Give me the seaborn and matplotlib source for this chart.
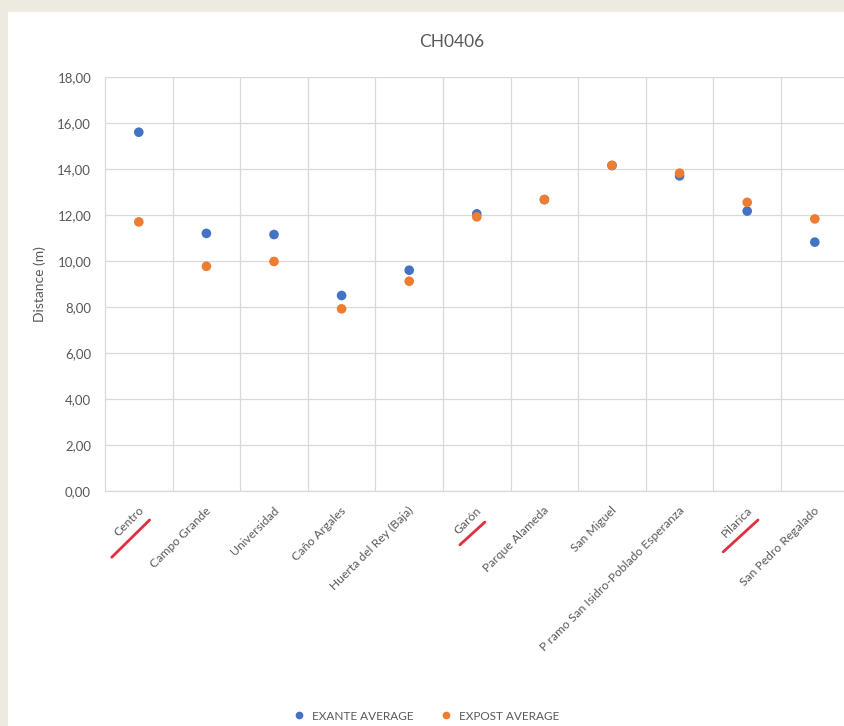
import numpy as np
import pandas as pd
import seaborn as sns
import matplotlib.pyplot as plt
from matplotlib.patches import Rectangle
from matplotlib.ticker import FuncFormatter, MultipleLocator
import matplotlib.transforms as mtransforms

# ------------------------------------------------------------------
# data
# ------------------------------------------------------------------
barrios = ["Centro", "Campo Grande", "Universidad", "Caño Argales",
           "Huerta del Rey (Baja)", "Garón", "Parque Alameda", "San Miguel",
           "P ramo San Isidro-Poblado Esperanza", "Pilarica",
           "San Pedro Regalado"]
exante_avg = [15.6, 11.2, 11.15, 8.5, 9.6, 12.05, 12.67, 14.15, 13.7, 12.17, 10.82]
expost_avg = [11.7, 9.77, 9.98, 7.92, 9.12, 11.92, 12.67, 14.16, 13.82, 12.55, 11.83]
series_names = ["EXANTE AVERAGE", "EXPOST AVERAGE"]

# red hand-drawn marks under some labels (relative to the category, axes-fraction y)
underlined = ["Centro", "Garón", "Pilarica"]
mark_x0 = [-0.40, -0.25, -0.355]
mark_x1 = [0.16, 0.12, 0.16]
mark_y0 = [-0.16, -0.13, -0.147]
mark_y1 = [-0.07, -0.075, -0.07]

blue = "#4472C4"
orange = "#ED7D31"
grey_txt = "#595959"
grid_col = "#D9D9D9"

df = pd.DataFrame({
    "barrio": barrios * 2,
    "dist": exante_avg + expost_avg,
    "serie": [series_names[0]] * len(barrios) + [series_names[1]] * len(barrios),
})

sns.set_style("white")
plt.rcParams["font.family"] = ["Lato", "DejaVu Sans"]

fig = plt.figure(figsize=(8.44, 7.26), dpi=100)
fig.patch.set_facecolor("#EDEADF")
bg = fig.add_axes([8 / 844, 0, 1, (726 - 12) / 726], zorder=-5)
bg.axis("off")
bg.add_patch(Rectangle((0, 0), 1, 1, transform=bg.transAxes,
                       facecolor="white", edgecolor="none"))

ax = fig.add_axes([105 / 844, (726 - 491) / 726, 743.6 / 844, 414 / 726], zorder=1)
ax.set_facecolor("none")

sns.scatterplot(data=df, x="barrio", y="dist", hue="serie",
                palette=[blue, orange], s=48, edgecolor="none",
                ax=ax, zorder=3, legend=True)

ax.set_xlim(-0.5, len(barrios) - 0.5)
ax.set_ylim(0, 18)
ax.yaxis.set_major_locator(MultipleLocator(2))
ax.yaxis.set_major_formatter(FuncFormatter(lambda v, p: f"{v:.2f}".replace(".", ",")))

# category gridlines between columns
ax.set_xticks(np.arange(len(barrios)) + 0.5, minor=True)
ax.grid(True, which="minor", axis="x", color=grid_col, lw=0.9)
ax.grid(True, which="major", axis="y", color=grid_col, lw=0.9)
ax.set_axisbelow(True)
ax.tick_params(which="both", length=0)
for s in ["top", "right"]:
    ax.spines[s].set_visible(False)
for s in ["left", "bottom"]:
    ax.spines[s].set_color(grid_col)
    ax.spines[s].set_linewidth(0.9)

ax.tick_params(axis="y", labelsize=9.5, labelcolor=grey_txt, pad=10)
ax.set_xticks(range(len(barrios)))
ax.set_xticklabels(barrios, rotation=45, ha="right", va="top",
                   rotation_mode="anchor", fontsize=8.7, color=grey_txt)
offset = mtransforms.ScaledTranslation(-0.01, -0.09, fig.dpi_scale_trans)
for lab in ax.get_xticklabels():
    lab.set_transform(lab.get_transform() + offset)

ax.set_xlabel("")
ax.set_ylabel("Distance (m)", fontsize=10, color=grey_txt, labelpad=8)

# red underline marks
blend = mtransforms.blended_transform_factory(ax.transData, ax.transAxes)
for name, x0, x1, y0, y1 in zip(underlined, mark_x0, mark_x1, mark_y0, mark_y1):
    i = barrios.index(name)
    ax.plot([i + x0, i + x1], [y0, y1], transform=blend, color="#E0303F",
            lw=2, clip_on=False, solid_capstyle="round")

fig.text(452 / 844, 1 - 42 / 726, "CH0406", ha="center", va="center",
         fontsize=12.5, color=grey_txt)

handles, labels = ax.get_legend_handles_labels()
ax.legend_.remove()
fig.legend(handles, labels, loc="center", bbox_to_anchor=(423 / 844, 1 - 716 / 726),
           ncol=2, frameon=False, fontsize=8.5, labelcolor=grey_txt,
           handletextpad=0.1, columnspacing=1.8, markerscale=0.8)

fig.savefig("out.png", dpi=100, facecolor=fig.get_facecolor())
